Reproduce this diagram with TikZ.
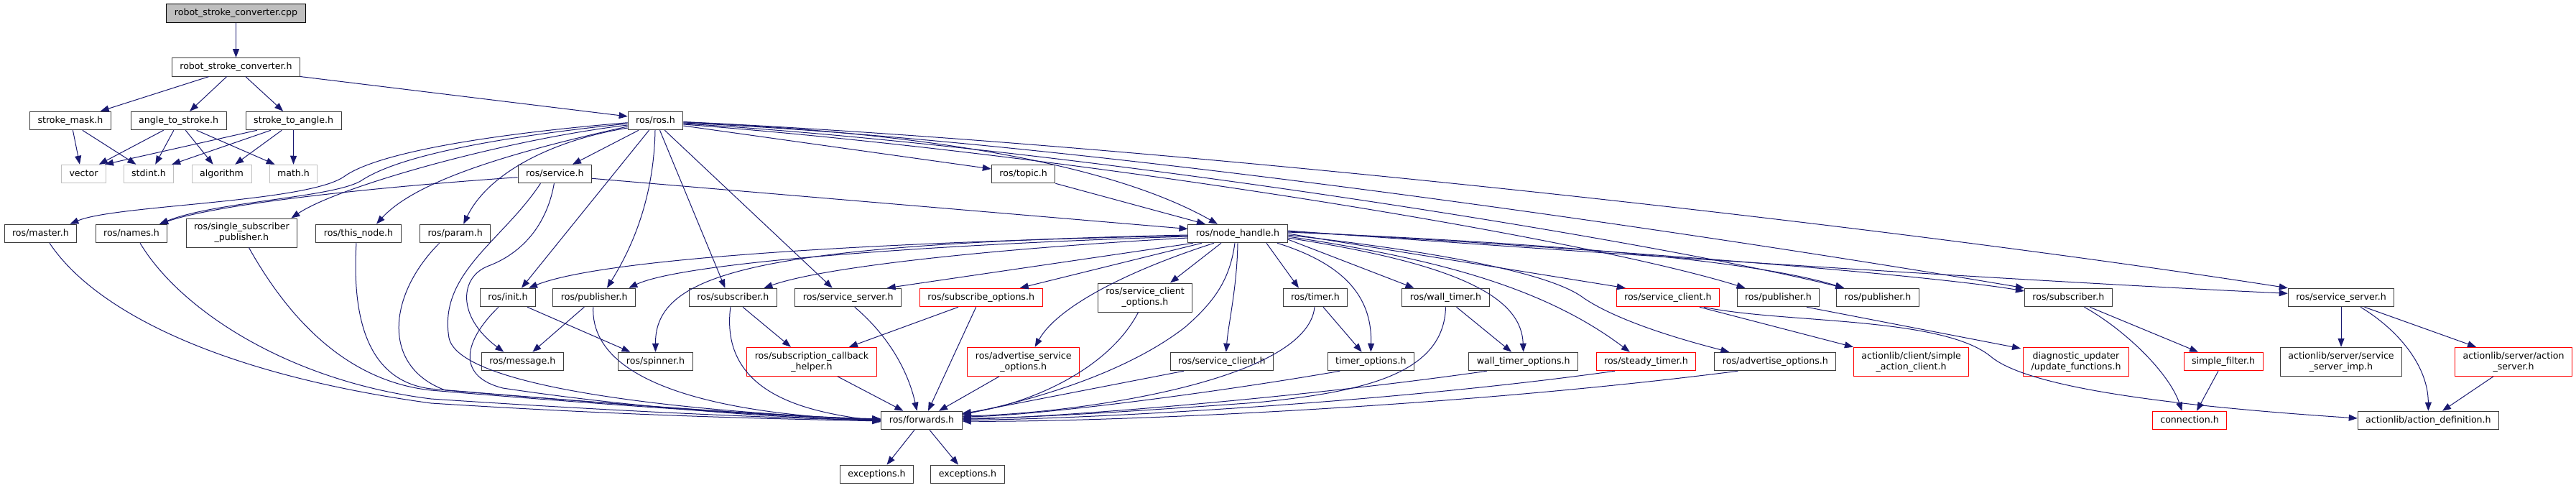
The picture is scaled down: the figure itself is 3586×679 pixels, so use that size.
\documentclass[tikz,border=0pt]{standalone}
\usepackage{fontspec}
\setmainfont{DejaVu Sans}
\definecolor{edge}{RGB}{25,25,112}
\definecolor{frame}{RGB}{60,60,60}
\definecolor{extgray}{RGB}{191,191,191}
\definecolor{trunc}{RGB}{255,0,0}
\usetikzlibrary{arrows.meta}

\tikzset{
  file/.style={draw=frame, line width=1pt, fill=white, minimum height=25.5pt,
    inner xsep=11pt, inner ysep=0pt, text height=9.6pt, text depth=2.8pt,
    font=\fontsize{12.6pt}{15pt}\selectfont},
  sys/.style={file, draw=extgray},
  cut/.style={file, draw=trunc},
  root/.style={file, draw=black, fill=extgray},
  twoline/.style={align=center, text height=, text depth=, minimum height=40pt},
  dep/.style={draw=edge, line width=1pt, -{Triangle[length=12pt,width=9pt]}},
}

\begin{document}
\begin{tikzpicture}[x=1pt,y=1pt]
  \useasboundingbox (0,0) rectangle (3586,-679);

  % files
  \node[root] (cpp) at (328.5,-18.5) {robot\_stroke\_converter.cpp};
  \node[file] (rsc) at (328.5,-93.3) {robot\_stroke\_converter.h};
  \node[file] (smask) at (98,-168) {stroke\_mask.h};
  \node[file] (a2s) at (248.6,-168) {angle\_to\_stroke.h};
  \node[file] (s2a) at (408.7,-168) {stroke\_to\_angle.h};
  \node[file] (ros) at (912.5,-168) {ros/ros.h};
  \node[sys] (vec) at (116.5,-242) {vector};
  \node[sys] (stdint) at (207,-242) {stdint.h};
  \node[sys] (algo) at (308.6,-242) {algorithm};
  \node[sys] (math) at (408.5,-242) {math.h};
  \node[file] (service) at (772.4,-242) {ros/service.h};
  \node[file] (topic) at (1424.6,-242) {ros/topic.h};
  \node[file] (master) at (56.4,-325) {ros/master.h};
  \node[file] (names) at (183,-325) {ros/names.h};
  \node[file, twoline] (ssp) at (336.4,-324) {ros/single\_subscriber\\\_publisher.h};
  \node[file] (thisnode) at (499,-325) {ros/this\_node.h};
  \node[file] (param) at (633.7,-325) {ros/param.h};
  \node[file] (nh) at (1723,-325) {ros/node\_handle.h};
  \node[file] (init) at (707,-414) {ros/init.h};
  \node[file] (pub) at (827.3,-414) {ros/publisher.h};
  \node[file] (sub) at (1020.4,-414) {ros/subscriber.h};
  \node[file] (srvsrv) at (1180.7,-414) {ros/service\_server.h};
  \node[cut] (subopt) at (1365.7,-414) {ros/subscribe\_options.h};
  \node[file, twoline] (scopt) at (1594,-414) {ros/service\_client\\\_options.h};
  \node[file] (timer) at (1831,-414) {ros/timer.h};
  \node[file] (wtimer) at (2012.5,-414) {ros/wall\_timer.h};
  \node[cut] (sclient) at (2321.8,-414) {ros/service\_client.h};
  \node[file] (pubb) at (2475.4,-414) {ros/publisher.h};
  \node[file] (pubc) at (2614,-414) {ros/publisher.h};
  \node[file] (subb) at (2879.4,-414) {ros/subscriber.h};
  \node[file] (srvsrvb) at (3259,-414) {ros/service\_server.h};
  \node[file] (msg) at (727.3,-503) {ros/message.h};
  \node[file] (spin) at (912.5,-503) {ros/spinner.h};
  \node[cut, twoline] (sch) at (1129.9,-503.3) {ros/subscription\_callback\\\_helper.h};
  \node[cut, twoline] (asopt) at (1424.7,-503.3) {ros/advertise\_service\\\_options.h};
  \node[file] (sclientb) at (1700.8,-503) {ros/service\_client.h};
  \node[file] (topt) at (1908.3,-503) {timer\_options.h};
  \node[file] (wtopt) at (2120.7,-503) {wall\_timer\_options.h};
  \node[cut] (steady) at (2291.4,-503) {ros/steady\_timer.h};
  \node[file] (advopt) at (2471.4,-503) {ros/advertise\_options.h};
  \node[cut, twoline] (sac) at (2660.6,-503.3) {actionlib/client/simple\\\_action\_client.h};
  \node[cut, twoline] (diag) at (2890,-503.3) {diagnostic\_updater\\/update\_functions.h};
  \node[cut] (sfilter) at (3095,-503) {simple\_filter.h};
  \node[file, twoline] (ssimp) at (3259,-503.3) {actionlib/server/service\\\_server\_imp.h};
  \node[cut, twoline] (aserver) at (3499,-503.3) {actionlib/server/action\\\_server.h};
  \node[file] (fwd) at (1283,-585) {ros/forwards.h};
  \node[cut] (conn) at (3048,-585) {connection.h};
  \node[file] (adef) at (3380.4,-585) {actionlib/action\_definition.h};
  \node[file] (exca) at (1220.5,-660) {exceptions.h};
  \node[file] (excb) at (1347,-660) {exceptions.h};

  % top part
  \draw[dep] (cpp) -- (rsc);
  \draw[dep] ([xshift=-37.6pt]rsc.south) -- ([xshift=41.7pt]smask.north);
  \draw[dep] ([xshift=-12.8pt]rsc.south) -- ([xshift=15.5pt]a2s.north);
  \draw[dep] ([xshift=13.3pt]rsc.south) -- ([xshift=-14.5pt]s2a.north);
  \draw[dep] (rsc.south east) -- ([yshift=6pt]ros.west);
  \draw[dep] ([xshift=3.4pt]smask.south) -- ([xshift=-5.5pt]vec.north);
  \draw[dep] ([xshift=16.8pt]smask.south) -- ([xshift=-17.6pt]stdint.north);
  \draw[dep] ([xshift=-20.9pt]a2s.south) -- ([xshift=21.3pt]vec.north);
  \draw[dep] ([xshift=-6.7pt]a2s.south) -- ([xshift=9.2pt]stdint.north);
  \draw[dep] ([xshift=9.7pt]a2s.south) -- ([xshift=-12pt]algo.north);
  \draw[dep] ([xshift=25pt]a2s.south) -- ([xshift=-25.8pt]math.north);
  \draw[dep] ([xshift=-50.9pt]s2a.south) -- ([xshift=-2pt]vec.north east);
  \draw[dep] ([xshift=-31.7pt]s2a.south) -- ([xshift=32.2pt]stdint.north);
  \draw[dep] ([xshift=-16.4pt]s2a.south) -- ([xshift=18.6pt]algo.north);
  \draw[dep] (s2a.south) -- (math.north);

  % ros/ros.h
  \draw[dep] ([yshift=-2.7pt]ros.west) .. controls (700,-185) and (530,-210) .. (480,-245)
    .. controls (430,-282) and (160,-285) .. ([xshift=41pt]master.north);
  \draw[dep] ([yshift=-4pt]ros.west) .. controls (700,-190) and (560,-215) .. (505,-250)
    .. controls (470,-275) and (300,-280) .. ([xshift=39pt]names.north);
  \draw[dep] ([yshift=-6pt]ros.west) .. controls (700,-195) and (470,-260) .. ([xshift=69pt]ssp.north);
  \draw[dep] ([yshift=-8pt]ros.west) .. controls (720,-210) and (580,-250) .. ([xshift=25pt]thisnode.north);
  \draw[dep] ([yshift=-10pt]ros.west) .. controls (770,-195) and (680,-240) .. ([xshift=11.5pt]param.north);
  \draw[dep] ([yshift=-4.7pt]service.west) .. controls (500,-262) and (300,-285) .. ([xshift=39pt]names.north);
  \draw[dep] ([xshift=-23.5pt]ros.south) -- ([xshift=24.6pt]service.north);
  \draw[dep] ([xshift=-9pt]ros.south) -- ([xshift=19pt]init.north);
  \draw[dep] ([xshift=-0.5pt]ros.south) .. controls (910,-290) and (870,-360) .. ([xshift=17.7pt]pub.north);
  \draw[dep] ([xshift=6pt]ros.south) -- ([xshift=-11pt]sub.north);
  \draw[dep] ([xshift=12.8pt]ros.south) -- ([xshift=-22pt]srvsrv.north);
  \draw[dep] ([yshift=-7pt]ros.east) -- ([yshift=7pt]topic.west);
  \draw[dep] ([yshift=-2pt]ros.east) .. controls (1300,-185) and (1550,-230) .. ([xshift=-28pt]nh.north);
  \draw[dep] ([yshift=-5pt]ros.east) .. controls (1500,-215) and (2200,-330) .. ([xshift=12pt]pubb.north west);
  \draw[dep] ([yshift=-4pt]ros.east) .. controls (1500,-205) and (2300,-335) .. ([xshift=11pt]pubc.north west);
  \draw[dep] ([yshift=-3pt]ros.east) .. controls (1500,-195) and (2400,-330) .. (subb.north west);
  \draw[dep] ([yshift=-1.5pt]ros.east) .. controls (1600,-200) and (2600,-310) .. (srvsrvb.north west);
  \draw[dep] (topic.south east) -- ([xshift=-45pt]nh.north);
  \draw[dep] ([yshift=-6.3pt]service.east) -- ([yshift=6.5pt]nh.west);

  % service, init, publisher
  \draw[dep] ([xshift=-1pt]service.south) .. controls (760,-320) and (720,-355) .. (680,-370)
    .. controls (640,-385) and (635,-440) .. ([xshift=-26pt]msg.north);
  \draw[dep] ([xshift=-14pt]pub.south) -- ([xshift=14pt]msg.north);
  \draw[dep] ([xshift=27pt]init.south) -- ([xshift=-35pt]spin.north);

  % ros/node_handle.h
  \draw[dep] ([yshift=-3pt]nh.west) .. controls (1300,-335) and (850,-355) .. ([xshift=29pt]init.north);
  \draw[dep] ([yshift=-4pt]nh.west) .. controls (1300,-340) and (950,-365) .. ([xshift=48pt]pub.north);
  \draw[dep] ([yshift=-2pt]nh.west) .. controls (1050,-340) and (912,-380) .. (spin.north);
  \draw[dep] ([yshift=-6pt]nh.west) .. controls (1400,-345) and (1150,-370) .. ([xshift=43pt]sub.north);
  \draw[dep] ([xshift=-62pt]nh.south) -- ([xshift=54pt]srvsrv.north);
  \draw[dep] ([xshift=-50pt]nh.south) -- ([xshift=54pt]subopt.north);
  \draw[dep] ([xshift=-33pt]nh.south) .. controls (1560,-380) and (1470,-430) .. ([xshift=16pt]asopt.north);
  \draw[dep] ([xshift=-23pt]nh.south) -- ([xshift=35pt]scopt.north);
  \draw[dep] ([xshift=-4pt]nh.south) .. controls (1712,-390) and (1690,-420) .. (1650,-455)
    .. controls (1560,-525) and (1420,-560) .. ([yshift=8pt]fwd.east);
  \draw[dep] (nh.south) .. controls (1722,-400) and (1710,-450) .. ([xshift=6pt]sclientb.north);
  \draw[dep] ([xshift=40pt]nh.south) -- ([xshift=-23pt]timer.north);
  \draw[dep] ([xshift=55pt]nh.south) .. controls (1880,-370) and (1910,-420) .. (topt.north);
  \draw[dep] ([yshift=-8pt]nh.east) -- ([xshift=-44pt]wtimer.north);
  \draw[dep] ([yshift=-6pt]nh.east) .. controls (2050,-370) and (2118,-420) .. (wtopt.north);
  \draw[dep] ([yshift=-4pt]nh.east) .. controls (2000,-360) and (2150,-400) .. ([xshift=-22.6pt]steady.north);
  \draw[dep] ([yshift=-2pt]nh.east) .. controls (2000,-350) and (2160,-380) .. (2205,-415)
    .. controls (2250,-445) and (2330,-470) .. ([xshift=-64pt]advopt.north);
  \draw[dep] (nh.east) -- ([xshift=-59pt]sclient.north);
  \draw[dep] ([yshift=2pt]nh.east) .. controls (2200,-340) and (2450,-365) .. ([xshift=11pt]pubc.north west);
  \draw[dep] ([yshift=3pt]nh.east) .. controls (2300,-350) and (2700,-385) .. ([yshift=9pt]subb.west);
  \draw[dep] ([yshift=4pt]nh.east) .. controls (2400,-365) and (2900,-395) .. ([yshift=5.7pt]srvsrvb.west);

  % into ros/forwards.h
  \draw[dep] ([xshift=12.6pt]master.south) .. controls (130,-430) and (300,-520) .. (600,-561)
    .. controls (900,-580) and (1100,-583) .. ([yshift=-1pt]fwd.west);
  \draw[dep] ([xshift=12pt]names.south) .. controls (250,-430) and (400,-530) .. (600,-555)
    .. controls (900,-575) and (1100,-582) .. (fwd.west);
  \draw[dep] ([xshift=10pt]ssp.south) .. controls (400,-440) and (480,-530) .. (600,-543)
    .. controls (900,-568) and (1100,-580) .. ([yshift=1pt]fwd.west);
  \draw[dep] ([xshift=-3pt]thisnode.south) .. controls (490,-440) and (510,-530) .. (600,-541)
    .. controls (900,-566) and (1100,-580) .. ([yshift=2pt]fwd.west);
  \draw[dep] ([xshift=-22pt]param.south) .. controls (540,-410) and (530,-510) .. (620,-543)
    .. controls (900,-566) and (1100,-580) .. ([yshift=2pt]fwd.west);
  \draw[dep] ([xshift=-20pt]service.south) .. controls (700,-335) and (610,-380) .. (625,-470)
    .. controls (640,-545) and (1000,-575) .. ([yshift=1pt]fwd.west);
  \draw[dep] ([xshift=-13pt]init.south) .. controls (640,-480) and (640,-525) .. (700,-540)
    .. controls (900,-570) and (1100,-582) .. (fwd.west);
  \draw[dep] ([xshift=-1.5pt]pub.south) .. controls (820,-560) and (1100,-580) .. (fwd.west);
  \draw[dep] ([xshift=-3.5pt]sub.south) .. controls (1000,-560) and (1150,-575) .. ([yshift=-2pt]fwd.west);
  \draw[dep] ([xshift=9pt]srvsrv.south) .. controls (1240,-470) and (1265,-520) .. ([xshift=-6.5pt]fwd.north);
  \draw[dep] ([xshift=-7pt]subopt.south) -- ([xshift=9pt]fwd.north);
  \draw[dep] ([xshift=-31.7pt]subopt.south) -- ([xshift=52pt]sch.north);
  \draw[dep] ([xshift=13.6pt]sub.south) -- ([xshift=-29pt]sch.north);
  \draw[dep] ([xshift=36pt]sch.south) -- ([xshift=-25.6pt]fwd.north);
  \draw[dep] ([xshift=-33.7pt]asopt.south) -- ([xshift=24pt]fwd.north);
  \draw[dep] ([xshift=-9.4pt]scopt.south) .. controls (1540,-520) and (1420,-565) .. ([yshift=10pt]fwd.east);
  \draw[dep] ([xshift=-53pt]sclientb.south) -- ([yshift=9pt]fwd.east);
  \draw[dep] ([xshift=-1pt]timer.south) .. controls (1820,-530) and (1500,-575) .. ([yshift=6pt]fwd.east);
  \draw[dep] ([xshift=11pt]timer.south) -- ([xshift=-12.6pt]topt.north);
  \draw[dep] (wtimer.south) .. controls (2010,-520) and (1900,-545) .. (1750,-560)
    .. controls (1500,-578) and (1400,-582) .. ([yshift=3pt]fwd.east);
  \draw[dep] ([xshift=15pt]wtimer.south) -- ([xshift=-16.6pt]wtopt.north);
  \draw[dep] ([xshift=-43pt]topt.south) .. controls (1700,-545) and (1450,-578) .. ([yshift=5pt]fwd.east);
  \draw[dep] ([xshift=-51pt]wtopt.south) .. controls (1800,-555) and (1450,-582) .. ([yshift=2pt]fwd.east);
  \draw[dep] ([xshift=-43.6pt]steady.south) .. controls (1900,-565) and (1450,-585) .. ([yshift=1pt]fwd.east);
  \draw[dep] ([xshift=-52pt]advopt.south) .. controls (2000,-570) and (1500,-588) .. ([yshift=-1pt]fwd.east);
  \draw[dep] ([xshift=-10pt]fwd.south) -- ([xshift=14pt]exca.north);
  \draw[dep] ([xshift=11pt]fwd.south) -- ([xshift=-13pt]excb.north);

  % right part
  \draw[dep] ([xshift=39.4pt]pubb.south) -- ([xshift=-3pt,yshift=-2pt]diag.north west);
  \draw[dep] ([xshift=44pt]sclient.south) -- (sac.north west);
  \draw[dep] ([xshift=50pt]sclient.south) .. controls (2480,-450) and (2700,-440) .. (2770,-495)
    .. controls (2810,-530) and (2950,-560) .. ([yshift=3pt]adef.west);
  \draw[dep] ([xshift=22pt]subb.south) .. controls (2960,-460) and (3020,-520) .. ([xshift=-10.6pt]conn.north);
  \draw[dep] ([xshift=29.6pt]subb.south) -- ([xshift=-35pt]sfilter.north);
  \draw[dep] ([xshift=-7pt]sfilter.south) -- ([xshift=10pt]conn.north);
  \draw[dep] (srvsrvb.south) -- (ssimp.north);
  \draw[dep] ([xshift=27pt]srvsrvb.south) .. controls (3340,-460) and (3380,-510) .. (adef.north);
  \draw[dep] ([xshift=32.5pt]srvsrvb.south) -- ([xshift=-52pt]aserver.north);
  \draw[dep] ([xshift=-28pt]aserver.south) -- ([xshift=19.5pt]adef.north);
\end{tikzpicture}
\end{document}
